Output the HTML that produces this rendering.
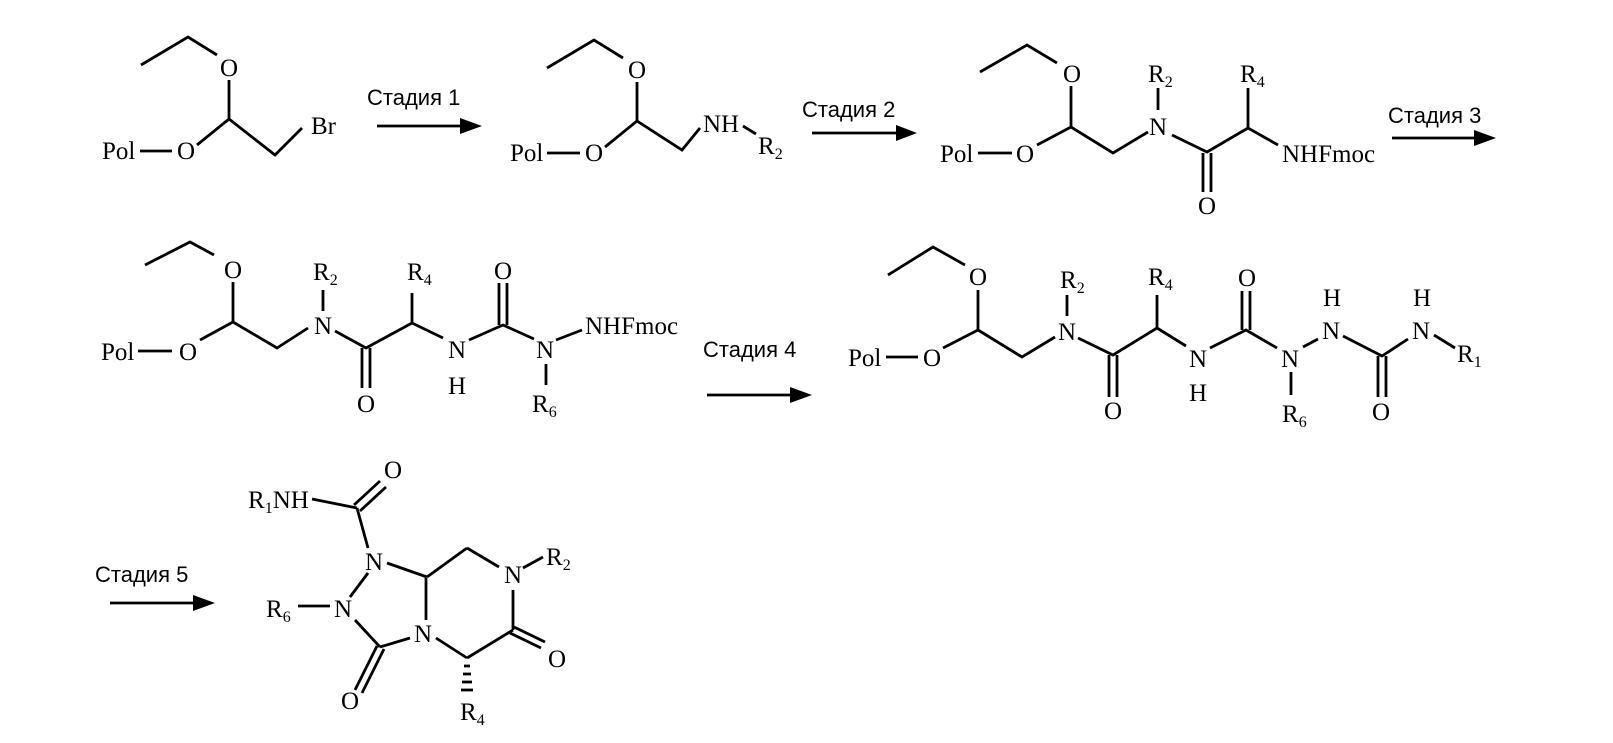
<!DOCTYPE html>
<html><head><meta charset="utf-8"><style>
html,body{margin:0;padding:0;background:#fff;}
svg{display:block}
text{font-family:"Liberation Serif",serif;font-size:25px;fill:#000}
.s{font-family:"Liberation Sans",sans-serif;font-size:22px}
.sub{font-size:16px}
line,polyline{stroke:#000;stroke-width:2.8;fill:none}
</style></head><body>
<svg width="1613" height="743" viewBox="0 0 1613 743">
<!-- Mol1 -->
<polyline points="141,65 188,37 217,55"/>
<text x="229" y="76" text-anchor="middle">O</text>
<line x1="229" y1="80" x2="229" y2="119"/>
<line x1="229" y1="119" x2="197" y2="145"/>
<text x="186" y="159" text-anchor="middle">O</text>
<text x="102" y="159">Pol</text>
<line x1="140" y1="151" x2="172" y2="151"/>
<polyline points="229,119 275,155 302,128"/>
<text x="311" y="134">Br</text>
<!-- Arrow1 -->
<text class="s" x="367" y="105">Стадия 1</text>
<line x1="377" y1="126" x2="465" y2="126"/>
<polygon points="482,126 460,118 460,134" fill="#000"/>
<!-- Mol2 -->
<polyline points="547,68 594,40 623,58"/>
<text x="637" y="78" text-anchor="middle">O</text>
<line x1="637" y1="82" x2="637" y2="121"/>
<line x1="637" y1="121" x2="605" y2="147"/>
<text x="594" y="161" text-anchor="middle">O</text>
<text x="510" y="161">Pol</text>
<line x1="547" y1="153" x2="580" y2="153"/>
<polyline points="637,121 682,150 700,128"/>
<text x="703" y="132">NH</text>
<line x1="743" y1="126" x2="756" y2="134"/>
<text x="758" y="154">R<tspan class="sub" dy="5">2</tspan></text>
<!-- Arrow2 -->
<text class="s" x="802" y="117">Стадия 2</text>
<line x1="812" y1="133" x2="900" y2="133"/>
<polygon points="917,133 896,125 896,141" fill="#000"/>
<!-- Mol3 -->
<polyline points="980,72 1027,45 1057,63"/>
<text x="1072" y="82" text-anchor="middle">O</text>
<line x1="1071" y1="86" x2="1071" y2="127"/>
<line x1="1071" y1="127" x2="1037" y2="145"/>
<text x="1025" y="162" text-anchor="middle">O</text>
<text x="940" y="162">Pol</text>
<line x1="978" y1="153" x2="1012" y2="153"/>
<polyline points="1071,127 1113,153 1148,132"/>
<text x="1158" y="135" text-anchor="middle">N</text>
<line x1="1158" y1="88" x2="1158" y2="110"/>
<text x="1148" y="82">R<tspan class="sub" dy="5">2</tspan></text>
<polyline points="1172,135 1207,152 1248,128"/>
<line x1="1203" y1="153" x2="1203" y2="192"/>
<line x1="1211" y1="153" x2="1211" y2="192"/>
<text x="1207" y="214" text-anchor="middle">O</text>
<line x1="1248" y1="128" x2="1248" y2="88"/>
<text x="1240" y="82">R<tspan class="sub" dy="5">4</tspan></text>
<line x1="1248" y1="128" x2="1278" y2="145"/>
<text x="1282" y="162">NHFmoc</text>
<!-- Arrow3 -->
<text class="s" x="1388" y="123">Стадия 3</text>
<line x1="1392" y1="138" x2="1478" y2="138"/>
<polygon points="1496,138 1474,130 1474,146" fill="#000"/>
<!-- Mol4 -->
<polyline points="145,265 190,242 214,255"/>
<text x="233" y="278" text-anchor="middle">O</text>
<line x1="233" y1="282" x2="233" y2="322"/>
<line x1="233" y1="322" x2="200" y2="340"/>
<text x="188" y="360" text-anchor="middle">O</text>
<text x="101" y="360">Pol</text>
<line x1="138" y1="351" x2="172" y2="351"/>
<polyline points="233,322 277,348 308,328"/>
<text x="323" y="334" text-anchor="middle">N</text>
<line x1="323" y1="290" x2="323" y2="311"/>
<text x="313" y="280">R<tspan class="sub" dy="5">2</tspan></text>
<polyline points="335,331 366,348 412,323"/>
<line x1="362" y1="348" x2="362" y2="388"/>
<line x1="370" y1="348" x2="370" y2="388"/>
<text x="366" y="412" text-anchor="middle">O</text>
<line x1="412" y1="323" x2="412" y2="293"/>
<text x="407" y="280">R<tspan class="sub" dy="5">4</tspan></text>
<line x1="412" y1="323" x2="443" y2="338"/>
<text x="457" y="358" text-anchor="middle">N</text>
<text x="457" y="394" text-anchor="middle">H</text>
<polyline points="469,340 503,325 534,339"/>
<line x1="499" y1="325" x2="499" y2="283"/>
<line x1="507" y1="325" x2="507" y2="283"/>
<text x="503" y="279" text-anchor="middle">O</text>
<text x="545" y="358" text-anchor="middle">N</text>
<line x1="556" y1="340" x2="582" y2="330"/>
<text x="585" y="334">NHFmoc</text>
<line x1="546" y1="364" x2="546" y2="385"/>
<text x="532" y="412">R<tspan class="sub" dy="5">6</tspan></text>
<!-- Arrow4 -->
<text class="s" x="703" y="357">Стадия 4</text>
<line x1="707" y1="395" x2="794" y2="395"/>
<polygon points="812,395 790,387 790,403" fill="#000"/>
<!-- Mol5 -->
<polyline points="888,275 933,247 965,265"/>
<text x="978" y="285" text-anchor="middle">O</text>
<line x1="978" y1="290" x2="978" y2="330"/>
<line x1="978" y1="330" x2="943" y2="348"/>
<text x="932" y="366" text-anchor="middle">O</text>
<text x="848" y="366">Pol</text>
<line x1="886" y1="357" x2="918" y2="357"/>
<polyline points="978,330 1022,357 1055,337"/>
<text x="1067" y="340" text-anchor="middle">N</text>
<line x1="1067" y1="295" x2="1067" y2="316"/>
<text x="1060" y="288">R<tspan class="sub" dy="5">2</tspan></text>
<polyline points="1078,338 1113,355 1157,328"/>
<line x1="1109" y1="355" x2="1109" y2="397"/>
<line x1="1117" y1="355" x2="1117" y2="397"/>
<text x="1113" y="419" text-anchor="middle">O</text>
<line x1="1157" y1="328" x2="1157" y2="295"/>
<text x="1148" y="285">R<tspan class="sub" dy="5">4</tspan></text>
<line x1="1157" y1="328" x2="1186" y2="346"/>
<text x="1198" y="367" text-anchor="middle">N</text>
<text x="1198" y="401" text-anchor="middle">H</text>
<polyline points="1210,348 1246,330 1277,348"/>
<line x1="1242" y1="330" x2="1242" y2="291"/>
<line x1="1250" y1="330" x2="1250" y2="291"/>
<text x="1247" y="286" text-anchor="middle">O</text>
<text x="1290" y="367" text-anchor="middle">N</text>
<line x1="1291" y1="372" x2="1291" y2="395"/>
<text x="1282" y="422">R<tspan class="sub" dy="5">6</tspan></text>
<line x1="1303" y1="347" x2="1318" y2="339"/>
<text x="1331" y="339" text-anchor="middle">N</text>
<text x="1332" y="306" text-anchor="middle">H</text>
<polyline points="1343,336 1382,356 1408,339"/>
<line x1="1378" y1="356" x2="1378" y2="397"/>
<line x1="1386" y1="356" x2="1386" y2="397"/>
<text x="1381" y="420" text-anchor="middle">O</text>
<text x="1421" y="339" text-anchor="middle">N</text>
<text x="1422" y="306" text-anchor="middle">H</text>
<line x1="1434" y1="335" x2="1455" y2="348"/>
<text x="1457" y="362">R<tspan class="sub" dy="5">1</tspan></text>
<!-- Arrow5 -->
<text class="s" x="95" y="582">Стадия 5</text>
<line x1="110" y1="603" x2="197" y2="603"/>
<polygon points="215,603 193,595 193,611" fill="#000"/>
<!-- Mol6 -->
<text x="248" y="508">R<tspan class="sub" dy="5">1</tspan><tspan dy="-5">NH</tspan></text>
<line x1="312" y1="499" x2="357" y2="508"/>
<line x1="354" y1="505" x2="380" y2="481"/>
<line x1="360" y1="511" x2="386" y2="487"/>
<text x="393" y="478" text-anchor="middle">O</text>
<line x1="357" y1="508" x2="368" y2="548"/>
<text x="374" y="570" text-anchor="middle">N</text>
<line x1="387" y1="563" x2="427" y2="577"/>
<line x1="427" y1="577" x2="467" y2="548"/>
<line x1="467" y1="548" x2="499" y2="567"/>
<text x="513" y="583" text-anchor="middle">N</text>
<line x1="523" y1="568" x2="543" y2="557"/>
<text x="546" y="565">R<tspan class="sub" dy="5">2</tspan></text>
<line x1="513" y1="590" x2="513" y2="630"/>
<line x1="510" y1="633" x2="541" y2="648"/>
<line x1="514" y1="627" x2="545" y2="642"/>
<text x="557" y="667" text-anchor="middle">O</text>
<line x1="513" y1="630" x2="467" y2="658"/>
<g stroke="#000" stroke-width="2.2">
<line x1="464" y1="666" x2="470" y2="666"/>
<line x1="463" y1="674" x2="471" y2="674"/>
<line x1="462" y1="682" x2="472" y2="682"/>
<line x1="461" y1="690" x2="473" y2="690"/>
</g>
<text x="460" y="720">R<tspan class="sub" dy="5">4</tspan></text>
<line x1="467" y1="658" x2="436" y2="638"/>
<text x="423" y="642" text-anchor="middle">N</text>
<line x1="426" y1="578" x2="426" y2="620"/>
<line x1="410" y1="638" x2="380" y2="647"/>
<line x1="377" y1="646" x2="355" y2="690"/>
<line x1="384" y1="649" x2="362" y2="693"/>
<text x="350" y="709" text-anchor="middle">O</text>
<line x1="380" y1="647" x2="355" y2="620"/>
<text x="343" y="617" text-anchor="middle">N</text>
<line x1="350" y1="597" x2="368" y2="573"/>
<line x1="298" y1="606" x2="330" y2="606"/>
<text x="266" y="617">R<tspan class="sub" dy="5">6</tspan></text>
</svg>
</body></html>
